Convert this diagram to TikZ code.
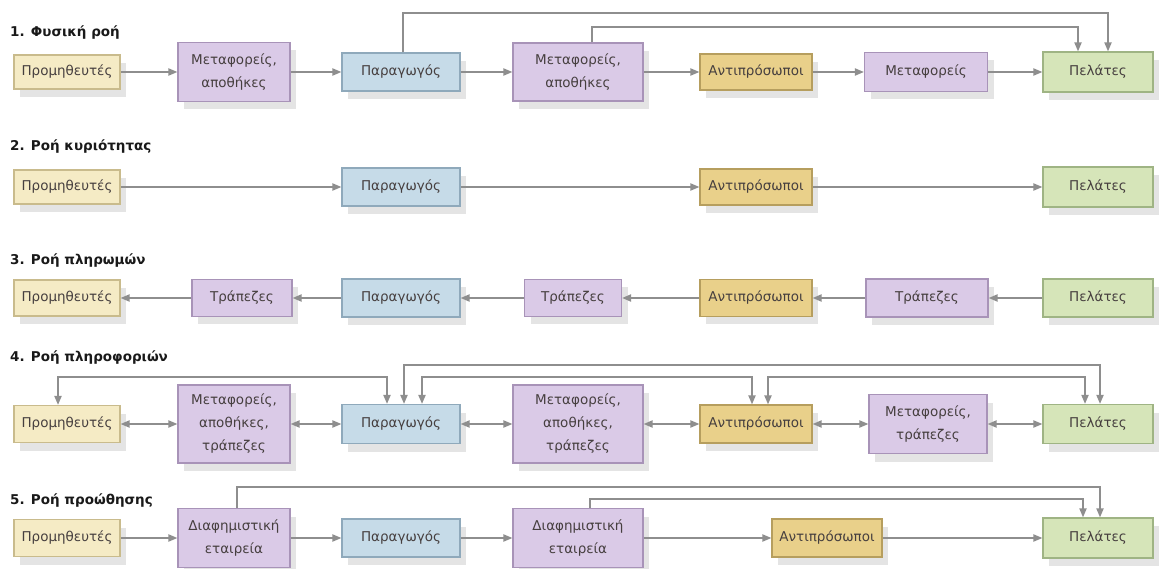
\documentclass[tikz,border=0pt]{standalone}
\usepackage{fontspec}
\setmainfont{DejaVu Sans}
\newfontfamily\boxfont{DejaVu Sans}
\newfontfamily\titlefont{DejaVu Sans}
\usetikzlibrary{arrows.meta,shadows,calc}
\definecolor{creamF}{HTML}{F5EBC5}\definecolor{creamD}{HTML}{C9BB8C}
\definecolor{purpF}{HTML}{DACAE7}\definecolor{purpD}{HTML}{A893B8}
\definecolor{blueF}{HTML}{C6DBE8}\definecolor{blueD}{HTML}{8FA9BB}
\definecolor{goldF}{HTML}{E9D08A}\definecolor{goldD}{HTML}{B69E5E}
\definecolor{greenF}{HTML}{D6E5B9}\definecolor{greenD}{HTML}{9FB484}
\definecolor{linec}{HTML}{8E8E8E}
\definecolor{textc}{HTML}{463F3F}
\definecolor{shadowc}{HTML}{E4E4E4}
\begin{document}
\begin{tikzpicture}[x=1pt,y=-1pt,
  box/.style={draw, line width=1.1pt, text=textc, align=center, inner sep=0pt,
    font=\boxfont\fontsize{13.5}{23}\selectfont,
    drop shadow={shadow xshift=6pt, shadow yshift=-8pt, fill=shadowc, opacity=1}},
  cream/.style={box, fill=creamF, draw=creamD},
  purp/.style={box, fill=purpF, draw=purpD},
  blu/.style={box, fill=blueF, draw=blueD},
  gold/.style={box, fill=goldF, draw=goldD},
  grn/.style={box, fill=greenF, draw=greenD},
  ttl/.style={anchor=west, inner sep=0pt, text=black!90, font=\titlefont\bfseries\fontsize{13.5}{15}\selectfont},
  flow/.style={draw=linec, line width=1.8pt, -{Triangle[length=9pt,width=7pt]}},
  flowb/.style={draw=linec, line width=1.8pt, {Triangle[length=9pt,width=7pt]}-{Triangle[length=9pt,width=7pt]}}
]
\useasboundingbox (0,0) rectangle (1165,569);

% ---------- Row 1 ----------
\node[ttl] (t1) at (10,33) {1. Φυσική ροή};
\node[cream, minimum width=106, minimum height=34] (p1) at (67,72) {Προμηθευτές};
\node[purp, minimum width=112, minimum height=59] (m1a) at (234,72) {Μεταφορείς,\\αποθήκες};
\node[blu, minimum width=118, minimum height=38] (g1) at (401,72) {Παραγωγός};
\node[purp, minimum width=130, minimum height=58] (m1b) at (578,72) {Μεταφορείς,\\αποθήκες};
\node[gold, minimum width=112, minimum height=36] (a1) at (756,72) {Αντιπρόσωποι};
\node[purp, minimum width=123, minimum height=39] (tr1) at (926,72) {Μεταφορείς};
\node[grn, minimum width=110, minimum height=40] (c1) at (1098,72) {Πελάτες};
\draw[flow] (p1) -- (m1a);
\draw[flow] (m1a) -- (g1);
\draw[flow] (g1) -- (m1b);
\draw[flow] (m1b) -- (a1);
\draw[flow] (a1) -- (tr1);
\draw[flow] (tr1) -- (c1);
\coordinate (h1a) at (0,13);
\coordinate (h1b) at (0,27);
\draw[flow] ([xshift=2pt]g1.north) -- ([xshift=2pt]g1.north |- h1a) -| ([xshift=10pt]c1.north);
\draw[flow] ([xshift=14pt]m1b.north) -- ([xshift=14pt]m1b.north |- h1b) -| ([xshift=-20pt]c1.north);

% ---------- Row 2 ----------
\node[ttl] (t2) at (10,147) {2. Ροή κυριότητας};
\node[cream, minimum width=106, minimum height=34] (p2) at (67,187) {Προμηθευτές};
\node[blu, minimum width=118, minimum height=38] (g2) at (401,187) {Παραγωγός};
\node[gold, minimum width=112, minimum height=36] (a2) at (756,187) {Αντιπρόσωποι};
\node[grn, minimum width=110, minimum height=40] (c2) at (1098,187) {Πελάτες};
\draw[flow] (p2) -- (g2);
\draw[flow] (g2) -- (a2);
\draw[flow] (a2) -- (c2);

% ---------- Row 3 ----------
\node[ttl] (t3) at (10,261) {3. Ροή πληρωμών};
\node[cream, minimum width=106, minimum height=36] (p3) at (67,298) {Προμηθευτές};
\node[purp, minimum width=100, minimum height=37] (b3a) at (242,298) {Τράπεζες};
\node[blu, minimum width=118, minimum height=38] (g3) at (401,298) {Παραγωγός};
\node[purp, minimum width=97, minimum height=37] (b3b) at (573,298) {Τράπεζες};
\node[gold, minimum width=112, minimum height=37] (a3) at (756,298) {Αντιπρόσωποι};
\node[purp, minimum width=122, minimum height=38] (b3c) at (927,298) {Τράπεζες};
\node[grn, minimum width=110, minimum height=38] (c3) at (1098,298) {Πελάτες};
\draw[flow] (b3a) -- (p3);
\draw[flow] (g3) -- (b3a);
\draw[flow] (b3b) -- (g3);
\draw[flow] (a3) -- (b3b);
\draw[flow] (b3c) -- (a3);
\draw[flow] (c3) -- (b3c);

% ---------- Row 4 ----------
\node[ttl] (t4) at (10,358) {4. Ροή πληροφοριών};
\node[cream, minimum width=106, minimum height=37] (p4) at (67,424) {Προμηθευτές};
\node[purp, minimum width=112, minimum height=78] (m4a) at (234,424) {Μεταφορείς,\\αποθήκες,\\τράπεζες};
\node[blu, minimum width=118, minimum height=39] (g4) at (401,424) {Παραγωγός};
\node[purp, minimum width=130, minimum height=78] (m4b) at (578,424) {Μεταφορείς,\\αποθήκες,\\τράπεζες};
\node[gold, minimum width=112, minimum height=38] (a4) at (756,424) {Αντιπρόσωποι};
\node[purp, minimum width=118, minimum height=59] (m4c) at (928,424) {Μεταφορείς,\\τράπεζες};
\node[grn, minimum width=110, minimum height=39] (c4) at (1098,424) {Πελάτες};
\draw[flowb] (p4) -- (m4a);
\draw[flowb] (m4a) -- (g4);
\draw[flowb] (g4) -- (m4b);
\draw[flowb] (m4b) -- (a4);
\draw[flowb] (a4) -- (m4c);
\draw[flowb] (m4c) -- (c4);
\coordinate (h4a) at (0,365);
\coordinate (h4b) at (0,377);
\draw[flowb] ([xshift=-9pt]p4.north) -- ([xshift=-9pt]p4.north |- h4b) -| ([xshift=-14pt]g4.north);
\draw[flowb] ([xshift=3pt]g4.north) -- ([xshift=3pt]g4.north |- h4a) -| ([xshift=2pt]c4.north);
\draw[flowb] ([xshift=21pt]g4.north) -- ([xshift=21pt]g4.north |- h4b) -| ([xshift=-4pt]a4.north);
\draw[flowb] ([xshift=12pt]a4.north) -- ([xshift=12pt]a4.north |- h4b) -| ([xshift=-13pt]c4.north);

% ---------- Row 5 ----------
\node[ttl] (t5) at (10,501) {5. Ροή προώθησης};
\node[cream, minimum width=106, minimum height=37] (p5) at (67,538) {Προμηθευτές};
\node[purp, minimum width=112, minimum height=59] (d5a) at (234,538) {Διαφημιστική\\εταιρεία};
\node[blu, minimum width=118, minimum height=38] (g5) at (401,538) {Παραγωγός};
\node[purp, minimum width=130, minimum height=59] (d5b) at (578,538) {Διαφημιστική\\εταιρεία};
\node[gold, minimum width=110, minimum height=38] (a5) at (827,538) {Αντιπρόσωποι};
\node[grn, minimum width=110, minimum height=40] (c5) at (1098,538) {Πελάτες};
\draw[flow] (p5) -- (d5a);
\draw[flow] (d5a) -- (g5);
\draw[flow] (g5) -- (d5b);
\draw[flow] (d5b) -- (a5);
\draw[flow] (a5) -- (c5);
\coordinate (h5a) at (0,487);
\coordinate (h5b) at (0,499);
\draw[flow] ([xshift=3pt]d5a.north) -- ([xshift=3pt]d5a.north |- h5a) -| ([xshift=2pt]c5.north);
\draw[flow] ([xshift=12pt]d5b.north) -- ([xshift=12pt]d5b.north |- h5b) -| ([xshift=-15pt]c5.north);
\end{tikzpicture}
\end{document}
